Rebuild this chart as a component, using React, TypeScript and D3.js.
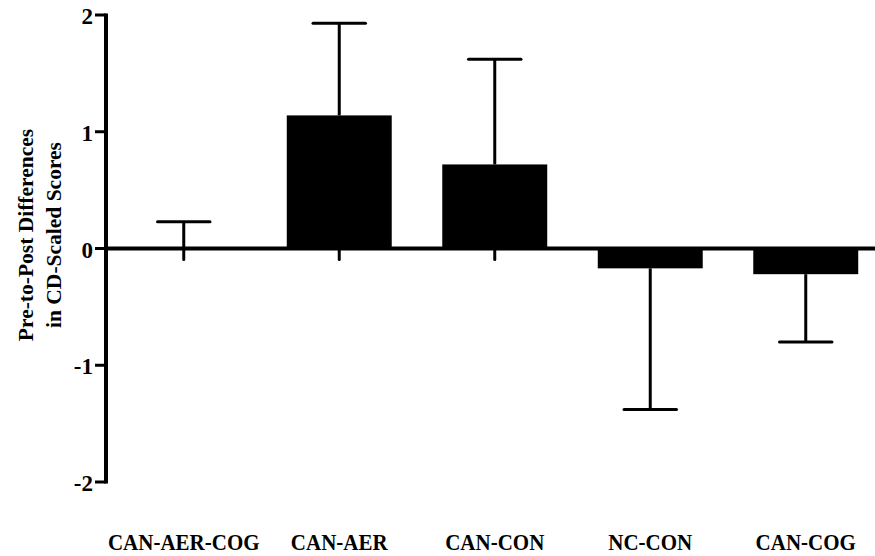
import React, { useRef, useEffect } from 'react';
import * as d3 from 'd3';

const groups = ['CAN-AER-COG', 'CAN-AER', 'CAN-CON', 'NC-CON', 'CAN-COG'];
const means = [0.0, 1.14, 0.72, -0.17, -0.22];
const errors = [0.23, 0.79, 0.9, 1.21, 0.58];
const yTicks = [-2, -1, 0, 1, 2];
const yLabelLines = ['Pre-to-Post Differences', 'in CD-Scaled Scores'];

const W = 875;
const H = 556;
const FONT = '"Liberation Serif", "Times New Roman", serif';

function App() {
  const svgRef = useRef<SVGSVGElement | null>(null);

  useEffect(() => {
    const svg = d3.select(svgRef.current);
    svg.selectAll('*').remove();

    const left = 106;
    const y = d3.scaleLinear().domain([-2, 2]).range([482, 15]);
    const x = d3
      .scaleBand<string>()
      .domain(groups)
      .range([left, left + 5 * 155.5])
      .paddingInner(0.325)
      .paddingOuter(0.1625);

    const data = groups.map((g, i) => ({ g, v: means[i], e: errors[i] }));

    // bars
    svg
      .selectAll('.bar')
      .data(data)
      .join('rect')
      .attr('class', 'bar')
      .attr('x', d => x(d.g)!)
      .attr('width', x.bandwidth())
      .attr('y', d => y(Math.max(0, d.v)))
      .attr('height', d => Math.abs(y(d.v) - y(0)))
      .attr('fill', '#000');

    // error bars (one-sided, away from zero)
    const cap = x.bandwidth() / 2;
    data.forEach(d => {
      const cx = x(d.g)! + x.bandwidth() / 2;
      const end = d.v >= 0 ? d.v + d.e : d.v - d.e;
      svg
        .append('line')
        .attr('x1', cx)
        .attr('x2', cx)
        .attr('y1', y(d.v))
        .attr('y2', y(end))
        .attr('stroke', '#000')
        .attr('stroke-width', 3);
      svg
        .append('line')
        .attr('x1', cx - cap / 2)
        .attr('x2', cx + cap / 2)
        .attr('y1', y(end))
        .attr('y2', y(end))
        .attr('stroke', '#000')
        .attr('stroke-width', 3)
        .attr('stroke-linecap', 'round');
    });

    // zero line and x ticks
    svg
      .append('line')
      .attr('x1', left)
      .attr('x2', W)
      .attr('y1', y(0))
      .attr('y2', y(0))
      .attr('stroke', '#000')
      .attr('stroke-width', 4);

    svg
      .selectAll('.xtick')
      .data(groups)
      .join('line')
      .attr('class', 'xtick')
      .attr('x1', d => x(d)! + x.bandwidth() / 2)
      .attr('x2', d => x(d)! + x.bandwidth() / 2)
      .attr('y1', y(0))
      .attr('y2', y(0) + 11)
      .attr('stroke', '#000')
      .attr('stroke-width', 3)
      .attr('stroke-linecap', 'round');

    // y axis
    svg
      .append('line')
      .attr('x1', left)
      .attr('x2', left)
      .attr('y1', y(2) - 1.5)
      .attr('y2', y(-2) + 1.5)
      .attr('stroke', '#000')
      .attr('stroke-width', 4);

    const yg = svg.selectAll('.ytick').data(yTicks).join('g').attr('class', 'ytick');
    yg.append('line')
      .attr('x1', left - 11)
      .attr('x2', left)
      .attr('y1', d => y(d))
      .attr('y2', d => y(d))
      .attr('stroke', '#000')
      .attr('stroke-width', 3);
    yg.append('text')
      .attr('x', left - 13)
      .attr('y', d => y(d) + 9)
      .attr('text-anchor', 'end')
      .attr('font-family', FONT)
      .attr('font-weight', 'bold')
      .attr('font-size', 23)
      .text(d => String(d));

    // x labels
    svg
      .selectAll('.xlabel')
      .data(groups)
      .join('text')
      .attr('class', 'xlabel')
      .attr('transform', d => `translate(${x(d)! + x.bandwidth() / 2},550) scale(1,1.1)`)
      .attr('text-anchor', 'middle')
      .attr('font-family', FONT)
      .attr('font-weight', 'bold')
      .attr('font-size', 21)
      .text(d => d);

    // y axis title
    const title = svg
      .append('text')
      .attr('transform', 'translate(0,235) rotate(-90)')
      .attr('text-anchor', 'middle')
      .attr('font-family', FONT)
      .attr('font-weight', 'bold')
      .attr('font-size', 21.5);
    yLabelLines.forEach((t, i) => {
      title
        .append('tspan')
        .attr('x', 0)
        .attr('y', i === 0 ? 33 : 61)
        .text(t);
    });
  }, []);

  return (
    <svg
      ref={svgRef}
      width={W}
      height={H}
      style={{ position: 'absolute', left: 0, top: 0, background: '#fff' }}
    />
  );
}

export default App;
